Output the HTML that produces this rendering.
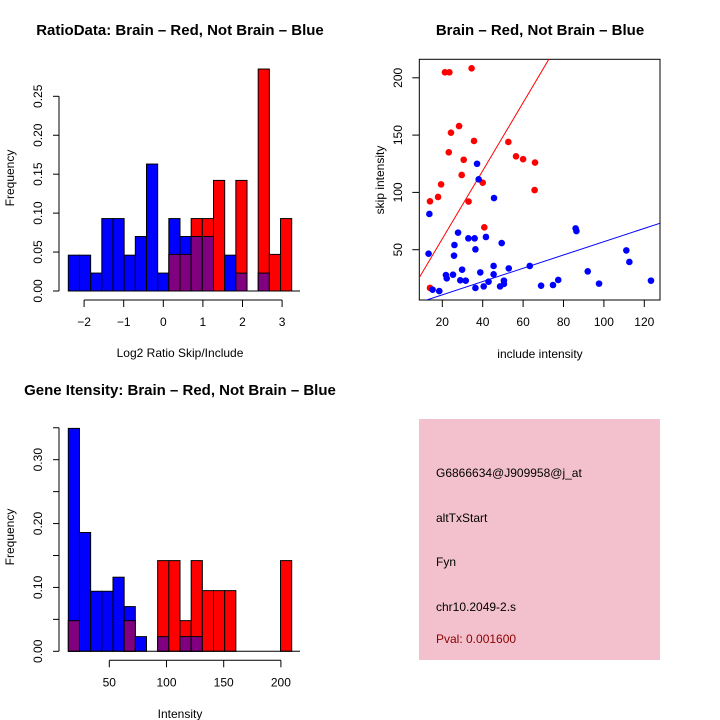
<!DOCTYPE html>
<html><head><meta charset="utf-8"><style>
body{margin:0;background:#fff}
svg{display:block;font-family:"Liberation Sans",sans-serif}
</style></head><body>
<svg id="s" width="720" height="720" viewBox="0 0 720 720">
<text x="180" y="35" font-size="15" font-weight="bold" text-anchor="middle">RatioData: Brain – Red, Not Brain – Blue</text>
<text x="540" y="35" font-size="15" font-weight="bold" text-anchor="middle">Brain – Red, Not Brain – Blue</text>
<text x="180" y="395" font-size="15" font-weight="bold" text-anchor="middle">Gene Itensity: Brain – Red, Not Brain – Blue</text>
<text x="180" y="357" font-size="12" text-anchor="middle">Log2 Ratio Skip/Include</text>
<text transform="translate(14,178) rotate(-90)" font-size="12" text-anchor="middle">Frequency</text>
<text x="540" y="358" font-size="12" text-anchor="middle">include intensity</text>
<text transform="translate(384,180) rotate(-90)" font-size="12" text-anchor="middle">skip intensity</text>
<text x="180" y="718" font-size="12" text-anchor="middle">Intensity</text>
<text transform="translate(14,537) rotate(-90)" font-size="12" text-anchor="middle">Frequency</text>
<rect x="419" y="419" width="241" height="241" fill="#f3c1cd"/>
<g font-size="12">
<text x="436" y="477">G6866634@J909958@j_at</text>
<text x="436" y="522">altTxStart</text>
<text x="436" y="566">Fyn</text>
<text x="436" y="611">chr10.2049-2.s</text>
<text x="436" y="643" fill="#8b0000">Pval: 0.001600</text>
</g>
</svg>
<script>
// Ratio histogram data
const ratioBlue=[0.046,0.046,0.023,0.093,0.093,0.046,0.070,0.163,0.023,0.093,0.070,0.070,0.070,0,0.046,0.023,0,0.023,0,0];
const ratioRed=[0,0,0,0,0,0,0,0,0,0.047,0.047,0.093,0.093,0.142,0,0.142,0,0.285,0.047,0.093];
const ratioYTicks=[0,0.05,0.10,0.15,0.20,0.25];
const ratioYLabels=["0.00","0.05","0.10","0.15","0.20","0.25"];
const ratioXTicks=[-2,-1,0,1,2,3];
// Intensity histogram data
const intBlue=[0.349,0.186,0.094,0.094,0.116,0.070,0.023,0,0.023,0,0.023,0.023,0,0,0,0,0,0,0,0];
const intRed=[0.048,0,0,0,0,0.048,0,0,0.142,0.142,0.048,0.142,0.095,0.095,0.095,0,0,0,0,0.142];
const intYTicks=[0,0.05,0.10,0.15,0.20,0.25,0.30,0.35];
const intYLabels=["0.00","","0.10","","0.20","","0.30",""];
const intXTicks=[50,100,150,200];
// Scatter data
const redX=[21.3,23.5,34.5,28.3,24.3,35.7,23.2,52.7,30.6,56.5,60,65.9,29.6,19.4,40,17.9,13.9,33,40.8,65.7,13.9];
const redY=[204.8,204.8,208.3,157.9,152.1,144.9,135,144,128.5,131.5,129,126,115.2,107,108.5,96,92.2,92,69.5,102,16.6];
const blueX=[13.6,13.2,15.2,18.5,37.2,38,45.6,27.8,26,25.8,32.9,36,41.6,36.4,49.4,29.8,21.8,22.2,25.3,28.9,31.6,38.8,45.4,45.4,42.9,36.4,40.5,48.6,50.5,50.5,52.9,63.3,68.9,74.8,77.4,86,86.4,92,97.6,111.1,112.6,123.3];
const blueY=[81.2,46.5,15.1,13.9,125,111.4,95.1,64.9,54.1,44.8,59.9,59.9,61.1,50.3,55.8,32.6,27.9,25,28.2,23.3,23,30.2,35.8,28.5,22.1,16.6,18,18,23,20.1,33.7,35.8,18.6,19.2,23.6,68.6,66.3,31.1,20.4,49.4,39.3,23];
const sXTicks=[20,40,60,80,100,120];
const sYTicks=[50,100,150,200];
const redFit=[0.1,2.97];
const blueFit=[-1.0,0.58];

const NS="http://www.w3.org/2000/svg";
const svg=document.getElementById('s');
function mk(tag,attrs,parent){const e=document.createElementNS(NS,tag);for(const k in attrs)e.setAttribute(k,attrs[k]);(parent||svg).appendChild(e);return e;}

function hist(blue,red,x0,x1,yBase,yScale,yTicks,yLabels,xTickVals,xOf,name){
  const g=mk('g',{});
  
  
  const n=blue.length,w=(x1-x0)/n;
  for(let i=0;i<n;i++){
    const b=blue[i],r=red[i],mx=Math.max(b,r),mn=Math.min(b,r);
    if(mx<=0)continue;
    const c=r>b?'#ff0000':'#0000ff';
    const x=x0+i*w;
    const rc=mk('rect',{x:x,y:yBase-mx*yScale,width:w,height:mx*yScale,fill:c,stroke:'#000','stroke-width':1},g);
    
    
    if(mn>0){
      const p=mk('rect',{x:x,y:yBase-mn*yScale,width:w,height:mn*yScale,fill:'#800080',stroke:'#000','stroke-width':1},g);
      
      
    }
  }
  mk('line',{x1:x0,x2:300,y1:yBase,y2:yBase,stroke:'#000'},g);
  const ax=59;
  mk('line',{x1:ax,x2:ax,y1:yBase,y2:yBase-yTicks[yTicks.length-1]*yScale,stroke:'#000'},g);
  yTicks.forEach((t,i)=>{const y=yBase-t*yScale;mk('line',{x1:ax-6,x2:ax,y1:y,y2:y,stroke:'#000'},g);
    if(yLabels[i]){const tx=mk('text',{transform:`translate(42,${y}) rotate(-90)`,'font-size':12,'text-anchor':'middle'},g);tx.textContent=yLabels[i];
    
    }});
  const xa=yBase+9;
  const xs=xTickVals.map(xOf);
  mk('line',{x1:xs[0],x2:xs[xs.length-1],y1:xa,y2:xa,stroke:'#000'},g);
  xTickVals.forEach((t,i)=>{mk('line',{x1:xs[i],x2:xs[i],y1:xa,y2:xa+7,stroke:'#000'},g);
    const tx=mk('text',{x:xs[i],y:xa+26,'font-size':12,'text-anchor':'middle'},g);tx.textContent=String(t).replace('-','\u2212');
    
    });
}
hist(ratioBlue,ratioRed,68.3,291.7,291,778.8,ratioYTicks,ratioYLabels,ratioXTicks,v=>163.3+v*39.6,'ratio-histogram');
hist(intBlue,intRed,68.3,291.7,651.3,638.7,intYTicks,intYLabels,intXTicks,v=>109.3+(v-50)*1.144,'intensity-histogram');

const bx0=419.3,bx1=660,by0=59.3,by1=300;
const sx=v=>401.9+v*2.02, sy=v=>307-v*1.146;
const sg=mk('g',{});


mk('clipPath',{id:'cp'},sg).appendChild((()=>{const r=document.createElementNS(NS,'rect');r.setAttribute('x',bx0);r.setAttribute('y',by0);r.setAttribute('width',bx1-bx0);r.setAttribute('height',by1-by0);return r;})());
mk('rect',{x:bx0,y:by0,width:bx1-bx0,height:by1-by0,fill:'none',stroke:'#000'},sg);
function fit(f,c,nm){const xa=0,xb=140;const l=mk('line',{x1:sx(xa),y1:sy(f[0]+f[1]*xa),x2:sx(xb),y2:sy(f[0]+f[1]*xb),stroke:c,'clip-path':'url(#cp)'},sg);
  
  }
fit(redFit,'#ff0000','red-fit-line');fit(blueFit,'#0000ff','blue-fit-line');
redX.forEach((x,i)=>{const c=mk('circle',{cx:sx(x),cy:sy(redY[i]),r:3.3,fill:'#ff0000'},sg);
  
  });
blueX.forEach((x,i)=>{const c=mk('circle',{cx:sx(x),cy:sy(blueY[i]),r:3.3,fill:'#0000ff'},sg);
  
  });
sXTicks.forEach(t=>{mk('line',{x1:sx(t),x2:sx(t),y1:by1,y2:by1+7,stroke:'#000'},sg);
  const tx=mk('text',{x:sx(t),y:by1+26,'font-size':12,'text-anchor':'middle'},sg);tx.textContent=t;
  
  });
sYTicks.forEach(t=>{mk('line',{x1:bx0-7,x2:bx0,y1:sy(t),y2:sy(t),stroke:'#000'},sg);
  const tx=mk('text',{transform:`translate(402,${sy(t)}) rotate(-90)`,'font-size':12,'text-anchor':'middle'},sg);tx.textContent=t;
  
  });
</script>
</body></html>
